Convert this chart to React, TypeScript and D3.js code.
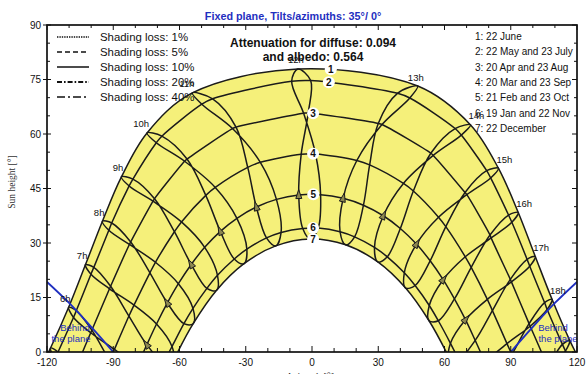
import * as d3 from 'd3';
import React, { useRef, useEffect } from 'react';

const W = 586;
const H = 374;

// sun position at each legal hour: [hour, azimuth °, sun height °]
const jun22 = [[5, -118.4, 1.1], [6, -110.2, 12.3], [7, -102.6, 24.0], [8, -94.9, 36.0], [9, -86.3, 48.2], [10, -74.7, 60.3], [11, -54.2, 71.3], [12, -6.4, 77.9], [13, 47.9, 73.2], [14, 71.8, 62.5], [15, 84.4, 50.6], [16, 93.4, 38.4], [17, 101.1, 26.3], [18, 108.7, 14.5], [19, 116.7, 3.2]];
const may22 = [[5, -115.0, 0.0], [6, -106.7, 11.4], [7, -98.8, 23.3], [8, -90.7, 35.5], [9, -81.1, 47.6], [10, -68.0, 59.4], [11, -45.0, 69.7], [12, -0.6, 74.7], [13, 44.3, 69.9], [14, 67.6, 59.7], [15, 80.9, 47.9], [16, 90.5, 35.7], [17, 98.6, 23.6], [18, 106.5, 11.7], [19, 114.8, 0.3]];
const jul23 = [[5, -116.5, -1.8], [6, -108.0, 9.5], [7, -100.1, 21.4], [8, -92.0, 33.5], [9, -82.8, 45.7], [10, -70.5, 57.6], [11, -49.9, 68.2], [12, -9.2, 74.5], [13, 38.7, 71.2], [14, 64.8, 61.5], [15, 79.1, 49.9], [16, 89.0, 37.7], [17, 97.4, 25.5], [18, 105.3, 13.6], [19, 113.4, 2.1]];
const apr20 = [[5, -108.4, -5.9], [6, -99.7, 6.0], [7, -91.2, 18.1], [8, -82.1, 30.3], [9, -71.3, 42.2], [10, -56.6, 53.1], [11, -34.4, 61.9], [12, -1.7, 65.8], [13, 31.7, 62.6], [14, 54.9, 54.1], [15, 70.1, 43.3], [16, 81.1, 31.4], [17, 90.3, 19.3], [18, 98.8, 7.1], [19, 107.5, -4.8]];
const aug23 = [[5, -108.9, -6.6], [6, -100.2, 5.3], [7, -91.7, 17.4], [8, -82.7, 29.6], [9, -72.0, 41.5], [10, -57.7, 52.5], [11, -36.0, 61.5], [12, -3.8, 65.7], [13, 30.0, 62.9], [14, 53.8, 54.7], [15, 69.3, 43.9], [16, 80.6, 32.2], [17, 89.8, 20.0], [18, 98.3, 7.8], [19, 107.0, -4.1]];
const mar20 = [[6, -91.7, -2.3], [7, -82.9, 9.9], [8, -73.4, 21.8], [9, -62.3, 33.1], [10, -48.1, 43.1], [11, -29.1, 50.8], [12, -4.9, 54.4], [13, 20.3, 52.7], [14, 41.4, 46.4], [15, 57.3, 37.1], [16, 69.4, 26.2], [17, 79.4, 14.5], [18, 88.3, 2.3]];
const sep23 = [[6, -89.5, 0.7], [7, -80.6, 12.9], [8, -70.9, 24.7], [9, -59.1, 35.8], [10, -43.8, 45.3], [11, -23.4, 52.2], [12, 1.6, 54.5], [13, 26.1, 51.5], [14, 45.9, 44.3], [15, 60.6, 34.5], [16, 72.1, 23.3], [17, 81.7, 11.4], [18, 90.5, -0.7]];
const feb21 = [[6, -83.4, -10.0], [7, -74.8, 2.0], [8, -65.5, 13.5], [9, -54.7, 24.1], [10, -41.5, 33.2], [11, -25.2, 39.9], [12, -6.0, 43.2], [13, 14.1, 42.3], [14, 32.3, 37.5], [15, 47.3, 29.7], [16, 59.4, 19.9], [17, 69.5, 8.9], [18, 78.4, -2.9]];
const oct23 = [[6, -79.3, -4.1], [7, -70.4, 7.7], [8, -60.5, 18.8], [9, -48.6, 28.8], [10, -34.0, 36.8], [11, -16.1, 42.0], [12, 3.9, 43.3], [13, 23.3, 40.4], [14, 40.0, 34.0], [15, 53.5, 25.1], [16, 64.5, 14.6], [17, 73.9, 3.2], [18, 82.6, -8.8]];
const jan19 = [[6, -75.1, -14.6], [7, -67.0, -3.0], [8, -58.0, 7.8], [9, -47.6, 17.5], [10, -35.2, 25.6], [11, -20.6, 31.4], [12, -4.2, 34.0], [13, 12.7, 33.1], [14, 28.3, 28.8], [15, 41.8, 21.8], [16, 53.1, 12.8], [17, 62.7, 2.4], [18, 71.2, -8.8]];
const nov22 = [[6, -71.8, -9.8], [7, -63.4, 1.5], [8, -53.9, 12.0], [9, -42.8, 21.1], [10, -29.5, 28.3], [11, -14.0, 32.9], [12, 2.8, 34.1], [13, 19.3, 31.7], [14, 34.1, 26.2], [15, 46.7, 18.3], [16, 57.2, 8.6], [17, 66.3, -2.1], [18, 74.5, -13.6]];
const dec22 = [[6, -70.9, -13.8], [7, -62.8, -2.6], [8, -53.8, 7.8], [9, -43.2, 17.0], [10, -30.8, 24.3], [11, -16.4, 29.2], [12, -0.6, 31.1], [13, 15.2, 29.5], [14, 29.8, 24.8], [15, 42.4, 17.6], [16, 53.0, 8.6], [17, 62.2, -1.7], [18, 70.3, -12.9]];

// the 7 date curves and where they meet the horizon
const dateCurves = [[jun22], [may22, jul23], [apr20, aug23], [mar20, sep23], [feb21, oct23], [jan19, nov22], [dec22]];
const sunriseAz = [119.3, 115.0, 103.9, 90.0, 76.3, 64.7, 60.8];
const dateNames = ['22 June', '22 May and 23 July', '20 Apr and 23 Aug', '20 Mar and 23 Sep', '21 Feb and 23 Oct', '19 Jan and 22 Nov', '22 December'];

// days in year order, for the hour loops
const yearOrder = [dec22, jan19, feb21, mar20, apr20, may22, jun22, jul23, aug23, sep23, oct23, nov22];
const hours = [5, 6, 7, 8, 9, 10, 11, 12, 13, 14, 15, 16, 17, 18, 19];
const labelledHours = [6, 7, 8, 9, 10, 11, 12, 13, 14, 15, 16, 17, 18];

// limit where the sun goes behind the 35° plane
const behindLeft = [[-120, 19.3], [-110, 13.5], [-100, 6.9], [-90, 0]];
const behindRight = [[90, 0], [100, 6.9], [110, 13.5], [120, 19.3]];

const shadingLosses = ['1%', '5%', '10%', '20%', '40%'];
const xTickValues = [-120, -90, -60, -30, 0, 30, 60, 90, 120];
const yTickValues = [0, 15, 30, 45, 60, 75, 90];

function SunPathChart() {
  const ref = useRef<SVGSVGElement>(null);

  useEffect(() => {
    const svg = d3.select(ref.current);
    svg.selectAll('*').remove();

    const margin = { top: 25, right: 9, bottom: 22, left: 47 };
    const x = d3.scaleLinear().domain([-120, 120]).range([margin.left, W - margin.right]);
    const y = d3.scaleLinear().domain([0, 90]).range([H - margin.bottom, margin.top]);
    const font = '"Liberation Sans", Arial, sans-serif';
    const ink = '#1b1b1b';
    const blue = '#1f2fc0';

    svg.append('rect').attr('width', W).attr('height', H).attr('fill', '#fff');

    svg
      .append('defs')
      .append('clipPath')
      .attr('id', 'plotClip')
      .append('rect')
      .attr('x', x(-120))
      .attr('y', y(90))
      .attr('width', x(120) - x(-120))
      .attr('height', y(0) - y(90));

    const plot = svg.append('g').attr('clip-path', 'url(#plotClip)');

    const line = d3
      .line<number[]>()
      .x((d) => x(d[0]))
      .y((d) => y(d[1]))
      .curve(d3.curveCatmullRom.alpha(0.5));
    const loop = d3
      .line<number[]>()
      .x((d) => x(d[0]))
      .y((d) => y(d[1]))
      .curve(d3.curveCatmullRomClosed.alpha(0.5));

    const curvePts = dateCurves.map((days, i) => {
      const pts = days
        .flat()
        .filter((d) => d[2] > 0.5)
        .map((d) => [d[1], d[2]]);
      pts.push([-sunriseAz[i], 0], [sunriseAz[i], 0]);
      return pts.sort((a, b) => a[0] - b[0]);
    });

    // yellow band between 22 June and 22 December
    const topEdge = line(curvePts[0]) as string;
    const bottomEdge = line(curvePts[6].slice().reverse()) as string;
    plot
      .append('path')
      .attr('d', topEdge + 'L' + bottomEdge.slice(1) + 'Z')
      .attr('fill', '#f5f07a');

    // date curves
    const datePaths = curvePts.map((pts) =>
      plot
        .append('path')
        .attr('d', line(pts))
        .attr('fill', 'none')
        .attr('stroke', ink)
        .attr('stroke-width', 1.5)
    );

    // hour loops (analemmas)
    hours.forEach((h) => {
      const pts = yearOrder
        .map((day) => day.find((d) => d[0] === h))
        .filter((d) => d)
        .map((d) => [d![1], d![2]]);
      const closed = pts.length === yearOrder.length;
      plot
        .append('path')
        .attr('d', closed ? loop(pts) : line(pts))
        .attr('fill', 'none')
        .attr('stroke', ink)
        .attr('stroke-width', 1.5);
    });

    // direction arrows on the February branch
    hours.forEach((h) => {
      const f = feb21.find((d) => d[0] === h);
      const a = jan19.find((d) => d[0] === h);
      const b = mar20.find((d) => d[0] === h);
      if (!f || !a || !b || f[2] <= 0.5) return;
      const px = x(f[1]);
      const py = y(f[2]);
      let ux = x(b[1]) - x(a[1]);
      let uy = y(b[2]) - y(a[2]);
      const n = Math.hypot(ux, uy);
      ux /= n;
      uy /= n;
      const pts = [
        [px + 5.5 * ux, py + 5.5 * uy],
        [px - 3.5 * ux + 3 * uy, py - 3.5 * uy - 3 * ux],
        [px - 3.5 * ux - 3 * uy, py - 3.5 * uy + 3 * ux],
      ];
      plot
        .append('path')
        .attr('d', 'M' + pts.map((p) => p.join(',')).join('L') + 'Z')
        .attr('fill', '#8c8750')
        .attr('stroke', ink)
        .attr('stroke-width', 1);
    });

    // behind the plane limits
    [behindLeft, behindRight].forEach((pts) => {
      plot
        .append('path')
        .attr('d', line(pts))
        .attr('fill', 'none')
        .attr('stroke', blue)
        .attr('stroke-width', 1.9);
    });
    [
      [75, 'Behind', 331],
      [71, 'the plane', 342],
      [553, 'Behind', 331],
      [558, 'the plane', 342],
    ].forEach(([tx, t, ty]) => {
      svg
        .append('text')
        .attr('x', tx)
        .attr('y', ty)
        .attr('text-anchor', 'middle')
        .attr('font-family', font)
        .attr('font-size', 9.5)
        .attr('fill', blue)
        .text(t as string);
    });

    // hour labels near the 22 June point
    labelledHours.forEach((h) => {
      const d = jun22.find((p) => p[0] === h)!;
      const px = x(d[1]);
      const py = y(d[2]);
      const anchor = d[1] < -30 ? 'end' : d[1] > 60 ? 'start' : 'middle';
      const dx = anchor === 'end' ? 2 : -2;
      svg
        .append('text')
        .attr('x', px + dx)
        .attr('y', py - 5.5)
        .attr('text-anchor', anchor)
        .attr('font-family', font)
        .attr('font-size', 9.5)
        .attr('fill', '#111')
        .text(h + 'h');
    });

    // numbered date markers
    const labelAz = [8.6, 7.7, 0.5, 0.5, 0.5, 0.5, 0.5];
    datePaths.forEach((p, i) => {
      const node = p.node() as SVGPathElement;
      const len = node.getTotalLength();
      const tx = x(labelAz[i]);
      let best = node.getPointAtLength(0);
      for (let s = 0; s <= len; s += 0.5) {
        const q = node.getPointAtLength(s);
        if (Math.abs(q.x - tx) < Math.abs(best.x - tx)) best = q;
      }
      svg.append('circle').attr('cx', best.x).attr('cy', best.y).attr('r', 6).attr('fill', '#fff');
      svg
        .append('text')
        .attr('x', best.x)
        .attr('y', best.y + 3.6)
        .attr('text-anchor', 'middle')
        .attr('font-family', font)
        .attr('font-weight', 'bold')
        .attr('font-size', 10)
        .attr('fill', '#111')
        .text(i + 1);
    });

    // frame and ticks
    const axes = svg.append('g').attr('stroke', '#111');
    d3.range(0, 91, 5).forEach((v) => {
      const major = v % 15 === 0;
      axes.append('line').attr('x1', x(-120) - (major ? 4 : 0)).attr('x2', x(-120) + (major ? 4 : 3)).attr('y1', y(v)).attr('y2', y(v));
      axes.append('line').attr('x1', x(120)).attr('x2', x(120) - (major ? 5 : 3)).attr('y1', y(v)).attr('y2', y(v));
    });
    d3.range(-120, 121, 10).forEach((v) => {
      const major = v % 30 === 0;
      axes.append('line').attr('x1', x(v)).attr('x2', x(v)).attr('y1', y(0)).attr('y2', y(0) - (major ? 6 : 4));
      axes.append('line').attr('x1', x(v)).attr('x2', x(v)).attr('y1', y(90)).attr('y2', y(90) + (major ? 5 : 3));
    });
    svg
      .append('rect')
      .attr('x', x(-120))
      .attr('y', y(90))
      .attr('width', x(120) - x(-120))
      .attr('height', y(0) - y(90))
      .attr('fill', 'none')
      .attr('stroke', '#111')
      .attr('stroke-width', 1.7);

    yTickValues.forEach((v) => {
      svg
        .append('text')
        .attr('x', x(-120) - 6)
        .attr('y', y(v) + 3.5)
        .attr('text-anchor', 'end')
        .attr('font-family', font)
        .attr('font-size', 10)
        .attr('fill', '#111')
        .text(v);
    });
    xTickValues.forEach((v) => {
      svg
        .append('text')
        .attr('x', x(v))
        .attr('y', y(0) + 14)
        .attr('text-anchor', 'middle')
        .attr('font-family', font)
        .attr('font-size', 10)
        .attr('fill', '#111')
        .text(v);
    });

    svg
      .append('text')
      .attr('transform', `translate(15, 182) rotate(-90)`)
      .attr('text-anchor', 'middle')
      .attr('font-family', '"Liberation Serif", "Times New Roman", serif')
      .attr('font-size', 9.5)
      .attr('fill', '#333')
      .text('Sun height [°]');
    svg
      .append('text')
      .attr('x', 310)
      .attr('y', 380)
      .attr('text-anchor', 'middle')
      .attr('font-family', '"Liberation Serif", "Times New Roman", serif')
      .attr('font-size', 10)
      .attr('fill', '#333')
      .text('Azimuth [°]');

    // title and diffuse attenuation
    svg
      .append('text')
      .attr('x', 293)
      .attr('y', 19.5)
      .attr('text-anchor', 'middle')
      .attr('font-family', font)
      .attr('font-weight', 'bold')
      .attr('font-size', 10.8)
      .attr('fill', blue)
      .text('Fixed plane, Tilts/azimuths: 35°/ 0°');
    ['Attenuation for diffuse: 0.094', 'and albedo: 0.564'].forEach((t, i) => {
      svg
        .append('text')
        .attr('x', 313)
        .attr('y', 46.5 + i * 14.5)
        .attr('text-anchor', 'middle')
        .attr('font-family', font)
        .attr('font-weight', 'bold')
        .attr('font-size', 12)
        .attr('fill', '#111')
        .text(t);
    });

    // shading loss legend
    const dashes = ['1.4,1', '5,3', null, '5,2,1.6,2', '8,3,2,3'];
    const widths = [1.4, 1.4, 1.5, 2, 1.5];
    shadingLosses.forEach((s, i) => {
      const ly = 37 + i * 15;
      svg
        .append('line')
        .attr('x1', 57)
        .attr('x2', 89)
        .attr('y1', ly)
        .attr('y2', ly)
        .attr('stroke', '#111')
        .attr('stroke-width', widths[i])
        .attr('stroke-dasharray', dashes[i]);
      svg
        .append('text')
        .attr('x', 100)
        .attr('y', ly + 4)
        .attr('font-family', font)
        .attr('font-size', 11.4)
        .attr('fill', '#111')
        .text('Shading loss: ' + s);
    });

    // date legend
    dateNames.forEach((t, i) => {
      svg
        .append('text')
        .attr('x', 475)
        .attr('y', 40 + i * 15.3)
        .attr('font-family', font)
        .attr('font-size', 10)
        .attr('fill', '#111')
        .text(i + 1 + ': ' + t);
    });
  }, []);

  return <svg ref={ref} width={W} height={H} style={{ position: 'absolute', left: 0, top: 0 }} />;
}

export default function App() {
  return <SunPathChart />;
}
